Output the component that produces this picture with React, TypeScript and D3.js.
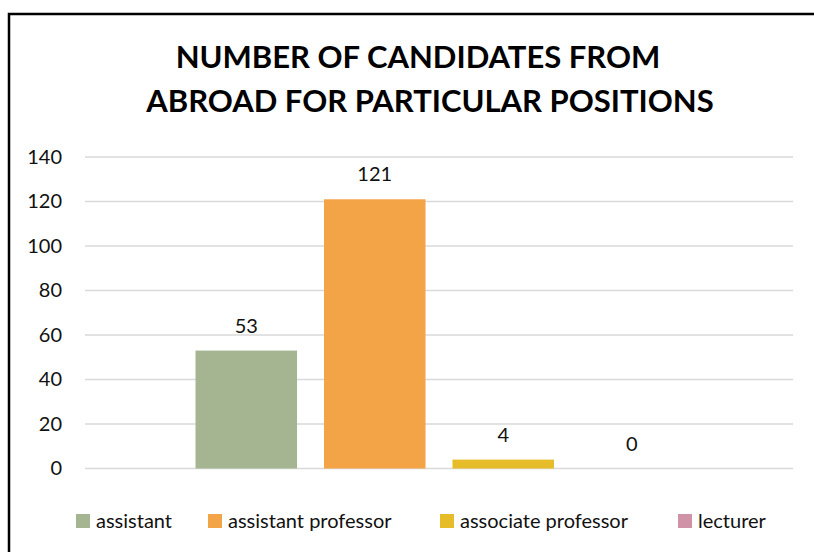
import { useRef, useEffect } from 'react'
import * as d3 from 'd3'

const titleLines = ['NUMBER OF CANDIDATES FROM', 'ABROAD FOR PARTICULAR POSITIONS']
const positions = ['assistant', 'assistant professor', 'associate professor', 'lecturer']
const candidates = [53, 121, 4, 0]
const positionColors = ['#A5B592', '#F3A447', '#E7BC29', '#D092A7']
const yTicks = [0, 20, 40, 60, 80, 100, 120, 140]

const width = 814
const height = 552
const margin = { top: 157, right: 21, bottom: 83, left: 85 }
const font = 'Lato, "Open Sans", sans-serif'

function drawChart(target: SVGSVGElement) {
  const svg = d3.select(target)
  svg.selectAll('*').remove()

  // frame (cut off on the right and bottom like the source)
  svg
    .append('rect')
    .attr('x', 9)
    .attr('y', 14)
    .attr('width', 900)
    .attr('height', 700)
    .attr('fill', '#fff')
    .attr('stroke', '#000')
    .attr('stroke-width', 2.5)

  const title = svg.append('g').attr('font-family', font).attr('font-weight', 700).attr('font-size', 31).attr('fill', '#000')
  title
    .selectAll('text')
    .data(titleLines)
    .enter()
    .append('text')
    .attr('x', (d, i) => (i === 0 ? 418 : 430))
    .attr('y', (d, i) => 68 + i * 44)
    .attr('text-anchor', 'middle')
    .text((d) => d)

  const x = d3
    .scaleBand()
    .domain(positions)
    .range([margin.left, width - margin.right])
    .paddingInner(0.21)
    .paddingOuter(0.86)

  const y = d3
    .scaleLinear()
    .domain([0, 140])
    .range([height - margin.bottom - 0.5, margin.top])

  const grid = svg.append('g')
  grid
    .selectAll('line')
    .data(yTicks)
    .enter()
    .append('line')
    .attr('x1', margin.left)
    .attr('x2', width - margin.right)
    .attr('y1', (d) => y(d))
    .attr('y2', (d) => y(d))
    .attr('stroke', '#D9D9D9')
    .attr('stroke-width', 1.5)

  const yAxis = d3.axisLeft(y).tickValues(yTicks).tickSize(0).tickPadding(23)
  const axisG = svg.append('g').attr('transform', `translate(${margin.left},0)`).call(yAxis)
  axisG.select('.domain').remove()
  axisG.selectAll('text').attr('font-family', font).attr('font-size', 20).attr('fill', '#111')

  svg
    .append('g')
    .selectAll('rect')
    .data(candidates)
    .enter()
    .append('rect')
    .attr('x', (d, i) => x(positions[i]) as number)
    .attr('width', x.bandwidth())
    .attr('y', (d) => y(d))
    .attr('height', (d) => y(0) - y(d))
    .attr('fill', (d, i) => positionColors[i])

  svg
    .append('g')
    .selectAll('text')
    .data(candidates)
    .enter()
    .append('text')
    .attr('x', (d, i) => (x(positions[i]) as number) + x.bandwidth() / 2)
    .attr('y', (d) => y(d) - 18)
    .attr('text-anchor', 'middle')
    .attr('font-family', font)
    .attr('font-size', 20)
    .attr('fill', '#111')
    .text((d) => d)

  // legend
  const legendX = [76, 208, 440, 678]
  const legend = svg
    .append('g')
    .selectAll('g')
    .data(positions)
    .enter()
    .append('g')
    .attr('transform', (d, i) => `translate(${legendX[i]},${521})`)
  legend
    .append('rect')
    .attr('x', 0)
    .attr('y', -7)
    .attr('width', 14)
    .attr('height', 14)
    .attr('fill', (d, i) => positionColors[i])
  legend
    .append('text')
    .attr('x', 20)
    .attr('y', 7)
    .attr('font-family', font)
    .attr('font-size', 20)
    .attr('fill', '#111')
    .text((d) => d)
}

export default function App() {
  const targetSVG = useRef<SVGSVGElement>(null)

  useEffect(() => {
    if (targetSVG.current) drawChart(targetSVG.current)
  }, [])

  return (
    <svg
      ref={targetSVG}
      width={width}
      height={height}
      style={{ position: 'absolute', left: 0, top: 0, display: 'block', background: '#fff' }}
    />
  )
}
